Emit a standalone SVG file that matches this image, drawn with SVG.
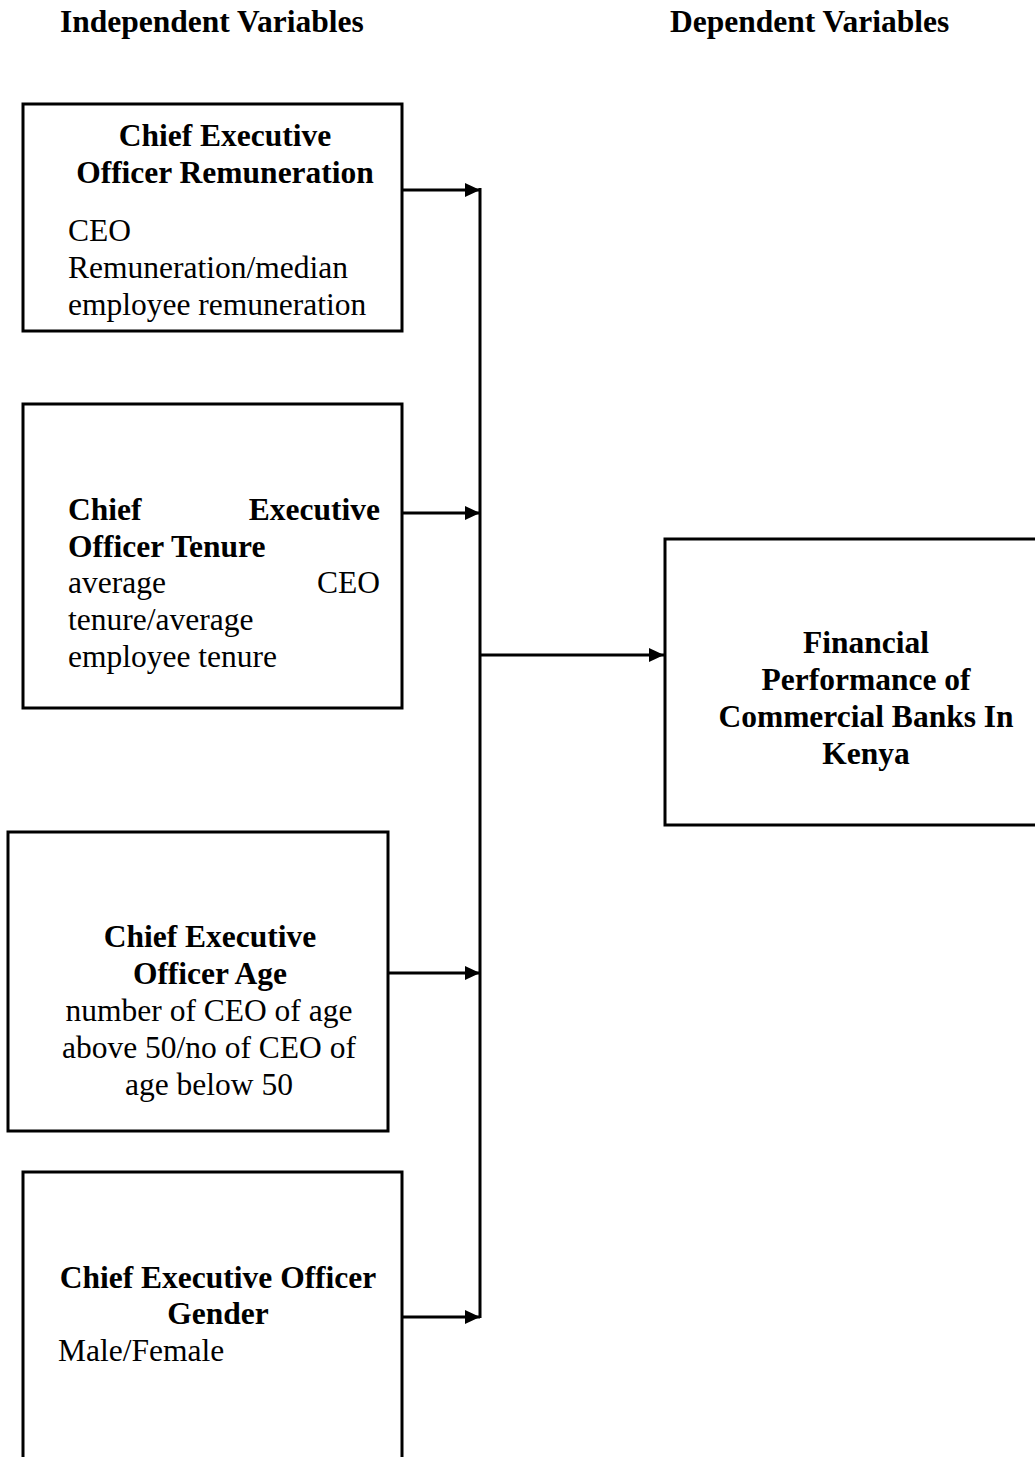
<svg xmlns="http://www.w3.org/2000/svg" width="1035" height="1457" viewBox="0 0 1035 1457">
<style>
  .box { fill: #ffffff; stroke: #000000; stroke-width: 3; }
  .b { font-family: "Liberation Serif", "Times New Roman", serif; font-weight: bold; font-size: 31.5px; fill: #000; }
  .r { font-family: "Liberation Serif", "Times New Roman", serif; font-size: 31.5px; fill: #000; }
  .c { text-anchor: middle; }
  .e { text-anchor: end; }
  .conn { stroke: #000; stroke-width: 3; fill: none; }
</style>
<defs>
  <marker id="arrow" markerUnits="userSpaceOnUse" markerWidth="16" markerHeight="14" refX="15" refY="7" orient="auto">
    <path d="M0,0 L15,7 L0,14 Z" fill="#000"/>
  </marker>
</defs>
<rect width="1035" height="1457" fill="#ffffff"/>

<g id="headers">
  <text class="b" x="60" y="32">Independent Variables</text>
  <text class="b" x="670" y="32">Dependent Variables</text>
</g>

<g id="node-remuneration">
  <rect class="box" x="23" y="104" width="379" height="227"/>
  <text class="b c" x="225" y="146">Chief Executive</text>
  <text class="b c" x="225" y="183">Officer Remuneration</text>
  <text class="r" x="68" y="241">CEO</text>
  <text class="r" x="68" y="278">Remuneration/median</text>
  <text class="r" x="68" y="315">employee remuneration</text>
</g>

<g id="node-tenure">
  <rect class="box" x="23" y="404" width="379" height="304"/>
  <text class="b" x="68" y="520">Chief</text>
  <text class="b e" x="380" y="520">Executive</text>
  <text class="b" x="68" y="557">Officer Tenure</text>
  <text class="r" x="68" y="593">average</text>
  <text class="r e" x="380" y="593">CEO</text>
  <text class="r" x="68" y="630">tenure/average</text>
  <text class="r" x="68" y="667">employee tenure</text>
</g>

<g id="node-age">
  <rect class="box" x="8" y="832" width="380" height="299"/>
  <text class="b c" x="210" y="947">Chief Executive</text>
  <text class="b c" x="210" y="984">Officer Age</text>
  <text class="r c" x="209" y="1021">number of CEO of age</text>
  <text class="r c" x="209" y="1058">above 50/no of CEO of</text>
  <text class="r c" x="209" y="1095">age below 50</text>
</g>

<g id="node-gender">
  <rect class="box" x="23" y="1172" width="379" height="300"/>
  <text class="b c" x="218" y="1288">Chief Executive Officer</text>
  <text class="b c" x="218" y="1324">Gender</text>
  <text class="r" x="58" y="1361">Male/Female</text>
</g>

<g id="node-performance">
  <rect class="box" x="665" y="539" width="380" height="286"/>
  <text class="b c" x="866" y="653">Financial</text>
  <text class="b c" x="866" y="690">Performance of</text>
  <text class="b c" x="866" y="727">Commercial Banks In</text>
  <text class="b c" x="866" y="764">Kenya</text>
</g>

<g id="connectors">
  <line class="conn" x1="480" y1="188" x2="480" y2="1318"/>
  <line class="conn" x1="402" y1="190" x2="480" y2="190" marker-end="url(#arrow)"/>
  <line class="conn" x1="402" y1="513" x2="480" y2="513" marker-end="url(#arrow)"/>
  <line class="conn" x1="388" y1="973" x2="480" y2="973" marker-end="url(#arrow)"/>
  <line class="conn" x1="402" y1="1317" x2="480" y2="1317" marker-end="url(#arrow)"/>
  <line class="conn" x1="480" y1="655" x2="664" y2="655" marker-end="url(#arrow)"/>
</g>
</svg>
